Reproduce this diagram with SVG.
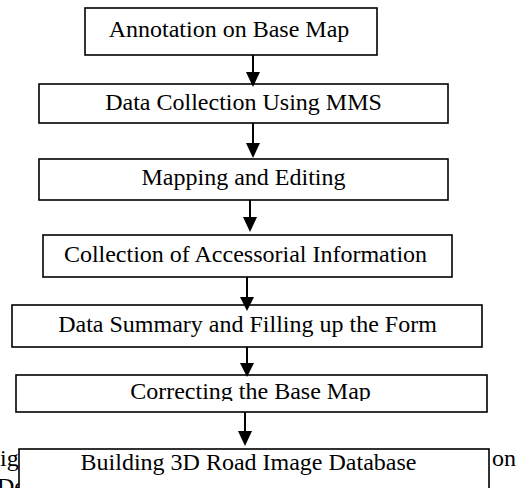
<svg xmlns="http://www.w3.org/2000/svg" width="517" height="488" viewBox="0 0 517 488">
<style>
.box{fill:#fff;stroke:#000;stroke-width:1.6}
.t{font-family:"Liberation Serif","Times New Roman",serif;font-size:24px;fill:#000}
.c{text-anchor:middle}
.ln{stroke:#000;stroke-width:2;fill:none}
.hd{fill:#000}
</style>
<defs>
<clipPath id="clip6"><rect x="0" y="370" width="517" height="31"/></clipPath>
</defs>
<rect width="517" height="488" fill="#fff"/>
<g id="caption-fragments">
<text class="t" x="0" y="466">ig</text>
<text class="t" x="-3" y="494">De</text>
<text class="t" x="492" y="466">on</text>
</g>
<g id="connectors">
<line class="ln" x1="253" y1="55" x2="253" y2="73"/>
<polygon class="hd" points="246,72 260,72 253,87"/>
<line class="ln" x1="253" y1="123" x2="253" y2="144"/>
<polygon class="hd" points="246,143 260,143 253,158"/>
<line class="ln" x1="250" y1="200" x2="250" y2="218"/>
<polygon class="hd" points="243,217 257,217 250,232"/>
<line class="ln" x1="247" y1="277" x2="247" y2="298"/>
<polygon class="hd" points="240,297 254,297 247,311"/>
<line class="ln" x1="247" y1="347" x2="247" y2="364"/>
<polygon class="hd" points="240,363 254,363 247,377"/>
<line class="ln" x1="245" y1="412" x2="245" y2="432"/>
<polygon class="hd" points="238,431 252,431 245,446"/>
</g>
<g id="n1">
<rect class="box" x="85" y="8" width="292" height="47"/>
<text class="t c" x="229" y="37">Annotation on Base Map</text>
</g>
<g id="n2">
<rect class="box" x="39" y="84" width="409" height="39" style="fill:none"/>
<text class="t c" x="243.5" y="110">Data Collection Using MMS</text>
</g>
<g id="n3">
<rect class="box" x="39" y="159" width="409" height="41"/>
<text class="t c" x="243.5" y="185">Mapping and Editing</text>
</g>
<g id="n4">
<rect class="box" x="43" y="235" width="409" height="42"/>
<text class="t c" x="245.5" y="262">Collection of Accessorial Information</text>
</g>
<g id="n5">
<rect class="box" x="12" y="305" width="470" height="42" style="fill:none"/>
<text class="t c" x="247.5" y="332">Data Summary and Filling up the Form</text>
</g>
<g id="n6">
<rect class="box" x="16" y="375" width="471" height="37" style="fill:none"/>
<text class="t c" x="250.5" y="399" clip-path="url(#clip6)">Correcting the Base Map</text>
</g>
<g id="n7">
<rect class="box" x="19" y="449" width="470" height="60"/>
<text class="t c" x="248.5" y="470">Building 3D Road Image Database</text>
</g>
</svg>
